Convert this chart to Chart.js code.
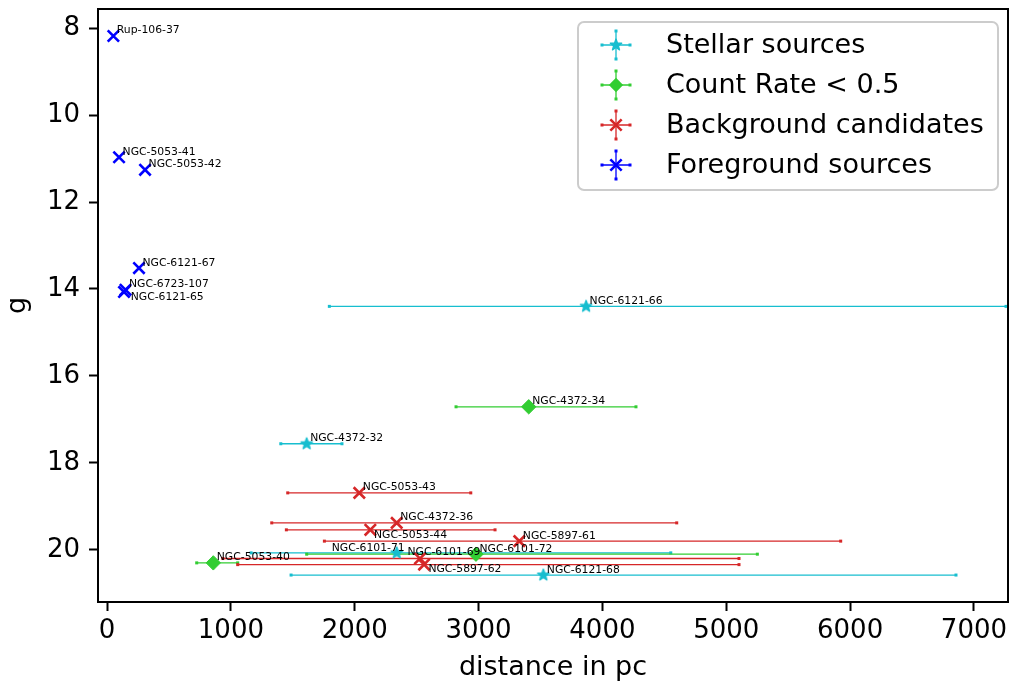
<!DOCTYPE html>
<html>
<head>
<meta charset="utf-8">
<script src="https://cdn.jsdelivr.net/npm/chart.js@4/dist/chart.umd.min.js"></script>
<style>
  html, body { margin: 0; padding: 0; background: #ffffff; }
  #wrap { width: 1010px; height: 684px; }
</style>
</head>
<body>
<div id="wrap"><canvas id="c" width="1010" height="684"></canvas></div>
<script>
// ---- sources: distance (pc) with lower/upper distance bounds, and g magnitude ----
const stellarNames = ['NGC-6121-66', 'NGC-4372-32', 'NGC-6101-71', 'NGC-6121-68'];
const stellarDist  = [3868, 1612, 2339, 3523];
const stellarLow   = [1795, 1403, 1163, 1486];
const stellarHigh  = [7259, 1897, 4552, 6855];
const stellarMag   = [14.40, 17.56, 20.07, 20.58];

const faintNames = ['NGC-4372-34', 'NGC-5053-40', 'NGC-6101-72'];
const faintDist  = [3405, 858, 2979];
const faintLow   = [2818, 724, 1612];
const faintHigh  = [4271, 1055, 5251];
const faintMag   = [16.71, 20.30, 20.10];

const backNames = ['NGC-5053-43', 'NGC-4372-36', 'NGC-5053-44', 'NGC-5897-61', 'NGC-6101-69', 'NGC-5897-62'];
const backDist  = [2037, 2339, 2126, 3329, 2527, 2560];
const backLow   = [1459, 1330, 1448, 1755, 935, 1055];
const backHigh  = [2937, 4600, 3133, 5924, 5103, 5103];
const backMag   = [18.69, 19.38, 19.54, 19.80, 20.20, 20.34];

const foreNames = ['Rup-106-37', 'NGC-5053-41', 'NGC-5053-42', 'NGC-6121-67', 'NGC-6723-107', 'NGC-6121-65'];
const foreDist  = [51, 97, 307, 258, 149, 137];
const foreMag   = [8.18, 10.97, 11.26, 13.52, 14.02, 14.07];

const xTicks = [0, 1000, 2000, 3000, 4000, 5000, 6000, 7000];
const yTicks = [8, 10, 12, 14, 16, 18, 20];

// ---- styling ----
const FONT = 'DejaVu Sans';
const C_STELLAR = '#17becf';
const C_FAINT = '#32cd32';
const C_BACK = '#d62728';
const C_FORE = '#0000ff';

// name placement relative to the marker, in pixels (default: up and to the right)
const nameOffset = {
  'NGC-6121-65': [6.7, 8],
  'NGC-5053-44': [3.7, 8],
  'NGC-5897-62': [4.3, 7.7],
  'NGC-6101-71': [-65, -2.3],
  'NGC-6101-69': [-12.5, -3.5]
};
const defaultOffset = [3.5, -2.5];

function starImage(color, r) {
  const s = Math.ceil(r * 2 + 4);
  const cv = document.createElement('canvas');
  cv.width = s; cv.height = s;
  const g = cv.getContext('2d');
  g.fillStyle = color; g.strokeStyle = color; g.lineWidth = 1.3; g.lineJoin = 'round';
  g.beginPath();
  for (let i = 0; i < 10; i++) {
    const rr = i % 2 === 0 ? r : r * 0.42;
    const a = -Math.PI / 2 + i * Math.PI / 5;
    g.lineTo(s / 2 + rr * Math.cos(a), s / 2 + rr * Math.sin(a));
  }
  g.closePath(); g.fill(); g.stroke();
  return cv;
}
const starMarker = starImage(C_STELLAR, 6);

function points(xs, ys) { return xs.map((x, i) => ({ x: x, y: ys[i] })); }

const datasets = [
  {
    label: 'Stellar sources', data: points(stellarDist, stellarMag),
    names: stellarNames, errLow: stellarLow, errHigh: stellarHigh,
    color: C_STELLAR, marker: 'star',
    pointStyle: starMarker, pointRadius: 6, backgroundColor: C_STELLAR, borderColor: C_STELLAR
  },
  {
    label: 'Count Rate < 0.5', data: points(faintDist, faintMag),
    names: faintNames, errLow: faintLow, errHigh: faintHigh,
    color: C_FAINT, marker: 'diamond',
    pointStyle: 'rectRot', pointRadius: 7.2, borderWidth: 1, backgroundColor: C_FAINT, borderColor: C_FAINT
  },
  {
    label: 'Background candidates', data: points(backDist, backMag),
    names: backNames, errLow: backLow, errHigh: backHigh,
    color: C_BACK, marker: 'x',
    pointStyle: 'crossRot', pointRadius: 8, borderWidth: 2.6, backgroundColor: C_BACK, borderColor: C_BACK
  },
  {
    label: 'Foreground sources', data: points(foreDist, foreMag),
    names: foreNames, errLow: null, errHigh: null,
    color: C_FORE, marker: 'x',
    pointStyle: 'crossRot', pointRadius: 8, borderWidth: 2.6, backgroundColor: C_FORE, borderColor: C_FORE
  }
];

// horizontal distance error bars, under the markers
const errorBars = {
  id: 'errorBars',
  beforeDatasetsDraw(chart) {
    const { ctx, scales } = chart;
    ctx.save();
    chart.data.datasets.forEach(ds => {
      if (!ds.errLow) return;
      ds.data.forEach((p, i) => {
        const y = scales.y.getPixelForValue(p.y);
        const x0 = scales.x.getPixelForValue(ds.errLow[i]);
        const x1 = scales.x.getPixelForValue(ds.errHigh[i]);
        ctx.strokeStyle = ds.color; ctx.lineWidth = 1.3;
        ctx.beginPath(); ctx.moveTo(x0, y); ctx.lineTo(x1, y); ctx.stroke();
        ctx.fillStyle = ds.color;
        ctx.fillRect(x0 - 1.5, y - 1.5, 3, 3);
        ctx.fillRect(x1 - 1.5, y - 1.5, 3, 3);
      });
    });
    ctx.restore();
  }
};

// source names next to each marker
const sourceNames = {
  id: 'sourceNames',
  afterDatasetsDraw(chart) {
    const { ctx } = chart;
    ctx.save();
    ctx.font = '10.8px "' + FONT + '"';
    ctx.fillStyle = '#000';
    ctx.textAlign = 'left';
    ctx.textBaseline = 'alphabetic';
    chart.data.datasets.forEach((ds, di) => {
      const meta = chart.getDatasetMeta(di);
      meta.data.forEach((el, i) => {
        const name = ds.names[i];
        const off = nameOffset[name] || defaultOffset;
        ctx.fillText(name, el.x + off[0], el.y + off[1]);
      });
    });
    ctx.restore();
  }
};

// frame around the plotting area
const plotFrame = {
  id: 'plotFrame',
  afterDatasetsDraw(chart) {
    const { ctx, chartArea: a } = chart;
    ctx.save();
    ctx.strokeStyle = '#000'; ctx.lineWidth = 2;
    ctx.strokeRect(a.left, a.top, a.right - a.left, a.bottom - a.top);
    ctx.restore();
  }
};

function drawMarker(ctx, ds, x, y) {
  ctx.save();
  ctx.fillStyle = ds.color; ctx.strokeStyle = ds.color;
  if (ds.marker === 'star') {
    ctx.drawImage(starMarker, x - starMarker.width / 2, y - starMarker.height / 2);
  } else if (ds.marker === 'diamond') {
    const r = ds.pointRadius;
    ctx.beginPath();
    ctx.moveTo(x, y - r); ctx.lineTo(x + r, y); ctx.lineTo(x, y + r); ctx.lineTo(x - r, y);
    ctx.closePath(); ctx.fill();
  } else {
    const h = ds.pointRadius * Math.SQRT1_2;
    ctx.lineWidth = ds.borderWidth;
    ctx.beginPath();
    ctx.moveTo(x - h, y - h); ctx.lineTo(x + h, y + h);
    ctx.moveTo(x - h, y + h); ctx.lineTo(x + h, y - h);
    ctx.stroke();
  }
  ctx.restore();
}

// legend box in the upper right corner of the plot
const errLegend = {
  id: 'errLegend',
  afterDraw(chart) {
    const { ctx, chartArea: a } = chart;
    const right = a.right - 10, top = a.top + 13;
    const w = 420, h = 168, left = right - w;
    ctx.save();
    ctx.beginPath();
    if (ctx.roundRect) ctx.roundRect(left, top, w, h, 6); else ctx.rect(left, top, w, h);
    ctx.fillStyle = 'rgba(255,255,255,0.8)'; ctx.fill();
    ctx.strokeStyle = '#cccccc'; ctx.lineWidth = 2; ctx.stroke();
    chart.data.datasets.forEach((ds, i) => {
      const cy = top + 23 + i * 40;
      const cx = left + 38;
      ctx.strokeStyle = ds.color; ctx.fillStyle = ds.color; ctx.lineWidth = 1.3;
      ctx.beginPath();
      ctx.moveTo(cx - 14, cy); ctx.lineTo(cx + 14, cy);
      ctx.moveTo(cx, cy - 14); ctx.lineTo(cx, cy + 14);
      ctx.stroke();
      [[cx - 14, cy], [cx + 14, cy], [cx, cy - 14], [cx, cy + 14]].forEach(p => ctx.fillRect(p[0] - 1.5, p[1] - 1.5, 3, 3));
      drawMarker(ctx, ds, cx, cy);
      ctx.fillStyle = '#000';
      ctx.font = '27px "' + FONT + '"';
      ctx.textAlign = 'left'; ctx.textBaseline = 'middle';
      ctx.fillText(ds.label, left + 88, cy + 1);
    });
    ctx.restore();
  }
};

const tickFont = { family: FONT, size: 26 };

new Chart(document.getElementById('c'), {
  type: 'scatter',
  data: { datasets: datasets },
  options: {
    responsive: false,
    animation: false,
    devicePixelRatio: 1,
    layout: { autoPadding: false, padding: { left: 0, right: 2, top: 9, bottom: 0 } },
    plugins: { legend: { display: false }, tooltip: { enabled: false } },
    scales: {
      x: {
        type: 'linear', min: -73, max: 7275,
        afterFit(s) { s.height = 82; s.paddingLeft = 0; s.paddingRight = 0; },
        afterBuildTicks(s) { s.ticks = xTicks.map(v => ({ value: v })); },
        ticks: { font: tickFont, color: '#000', padding: 5, maxRotation: 0, autoSkip: false, includeBounds: false, callback: v => String(v) },
        grid: { drawOnChartArea: false, drawTicks: true, tickLength: 9, tickWidth: 2, tickColor: '#000' },
        border: { display: false },
        title: { display: true, text: 'distance in pc', color: '#000', font: { family: FONT, size: 27 }, padding: 0 }
      },
      y: {
        type: 'linear', reverse: true, min: 7.56, max: 21.2,
        afterFit(s) { s.width = 98; s.paddingTop = 0; s.paddingBottom = 0; },
        afterBuildTicks(s) { s.ticks = yTicks.map(v => ({ value: v })); },
        ticks: { font: tickFont, color: '#000', padding: 9, autoSkip: false, includeBounds: false, callback: v => String(v) },
        grid: { drawOnChartArea: false, drawTicks: true, tickLength: 9, tickWidth: 2, tickColor: '#000' },
        border: { display: false },
        title: { display: true, text: 'g', color: '#000', font: { family: FONT, size: 27 }, padding: { top: 2, bottom: 0 } }
      }
    }
  },
  plugins: [errorBars, sourceNames, plotFrame, errLegend]
});
</script>
</body>
</html>
